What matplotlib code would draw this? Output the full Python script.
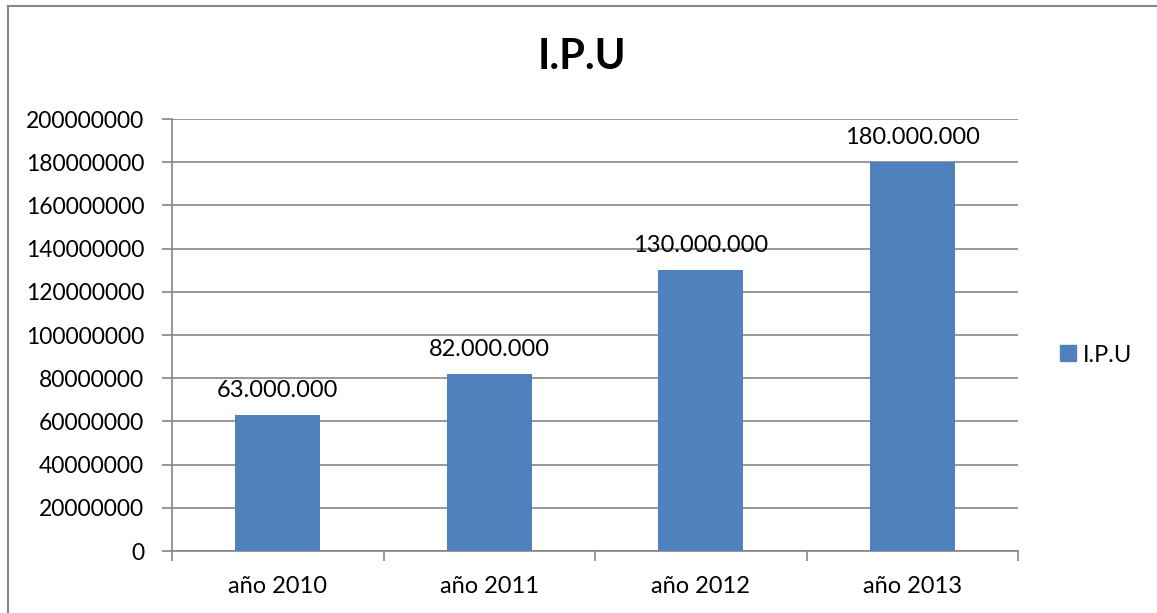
import matplotlib
matplotlib.use("Agg")
import matplotlib.pyplot as plt
from matplotlib.lines import Line2D
from matplotlib.ticker import FuncFormatter

categories = ["año 2010", "año 2011", "año 2012", "año 2013"]
values = [63000000, 82000000, 130000000, 180000000]
value_labels = ["63.000.000", "82.000.000", "130.000.000", "180.000.000"]
series_name = "I.P.U"
title = "I.P.U"

plt.rcParams['font.family'] = ['Lato', 'DejaVu Sans']
W, H = 1157, 613
fig = plt.figure(figsize=(W / 100, H / 100), dpi=100)
ax = fig.add_axes([172 / W, 1 - 551 / H, 846 / W, 432 / H])

bar_color = "#4F81BD"
grid_color = "#868686"
fs = 17
x = list(range(len(categories)))
bars = ax.bar(x, values, width=0.40, color=bar_color, label=series_name, zorder=3)

ax.set_xlim(-0.5, len(categories) - 0.5)
ax.set_ylim(0, 200000000)
ax.set_yticks(range(0, 200000001, 20000000))
ax.yaxis.set_major_formatter(FuncFormatter(lambda v, p: f"{int(v)}"))
ax.yaxis.grid(True, color=grid_color, linewidth=1.2, zorder=0)
ax.tick_params(axis='y', length=7, width=1.2, color=grid_color, pad=13,
               labelsize=16.5, labelcolor="black")

ax.set_xticks([i - 0.5 for i in range(len(categories) + 1)])
ax.set_xticklabels([])
ax.set_xticks(x, minor=True)
ax.set_xticklabels(categories, minor=True)
ax.tick_params(axis='x', which='major', length=7, width=1.2, color=grid_color)
ax.tick_params(axis='x', which='minor', length=0, pad=18, labelsize=fs,
               labelcolor="black")

for s in ['top', 'right']:
    ax.spines[s].set_visible(False)
for s in ['left', 'bottom']:
    ax.spines[s].set_color(grid_color)
    ax.spines[s].set_linewidth(1.2)

for rect, lab in zip(bars, value_labels):
    ax.annotate(lab, (rect.get_x() + rect.get_width() / 2, rect.get_height()),
                xytext=(0, 10), textcoords="offset points", ha="center",
                va="bottom", fontsize=fs, color="black")

fig.text(582 / W, 1 - 57 / H, title, ha="center", va="center",
         fontsize=30, fontweight="bold")

leg = fig.legend(handles=[plt.Rectangle((0, 0), 1, 1, color=bar_color)],
                 labels=[series_name], loc="center left",
                 bbox_to_anchor=(1039 / W, 1 - 355 / H), frameon=False,
                 fontsize=fs, handlelength=0.65, handleheight=0.65,
                 handletextpad=0.3)

# outer border
fig.add_artist(Line2D([8 / W, 1], [1 - 6 / H, 1 - 6 / H], color=grid_color,
                      linewidth=1.5, transform=fig.transFigure))
fig.add_artist(Line2D([8 / W, 8 / W], [0, 1 - 6 / H], color=grid_color,
                      linewidth=1.5, transform=fig.transFigure))

fig.savefig("out.png", dpi=100)
